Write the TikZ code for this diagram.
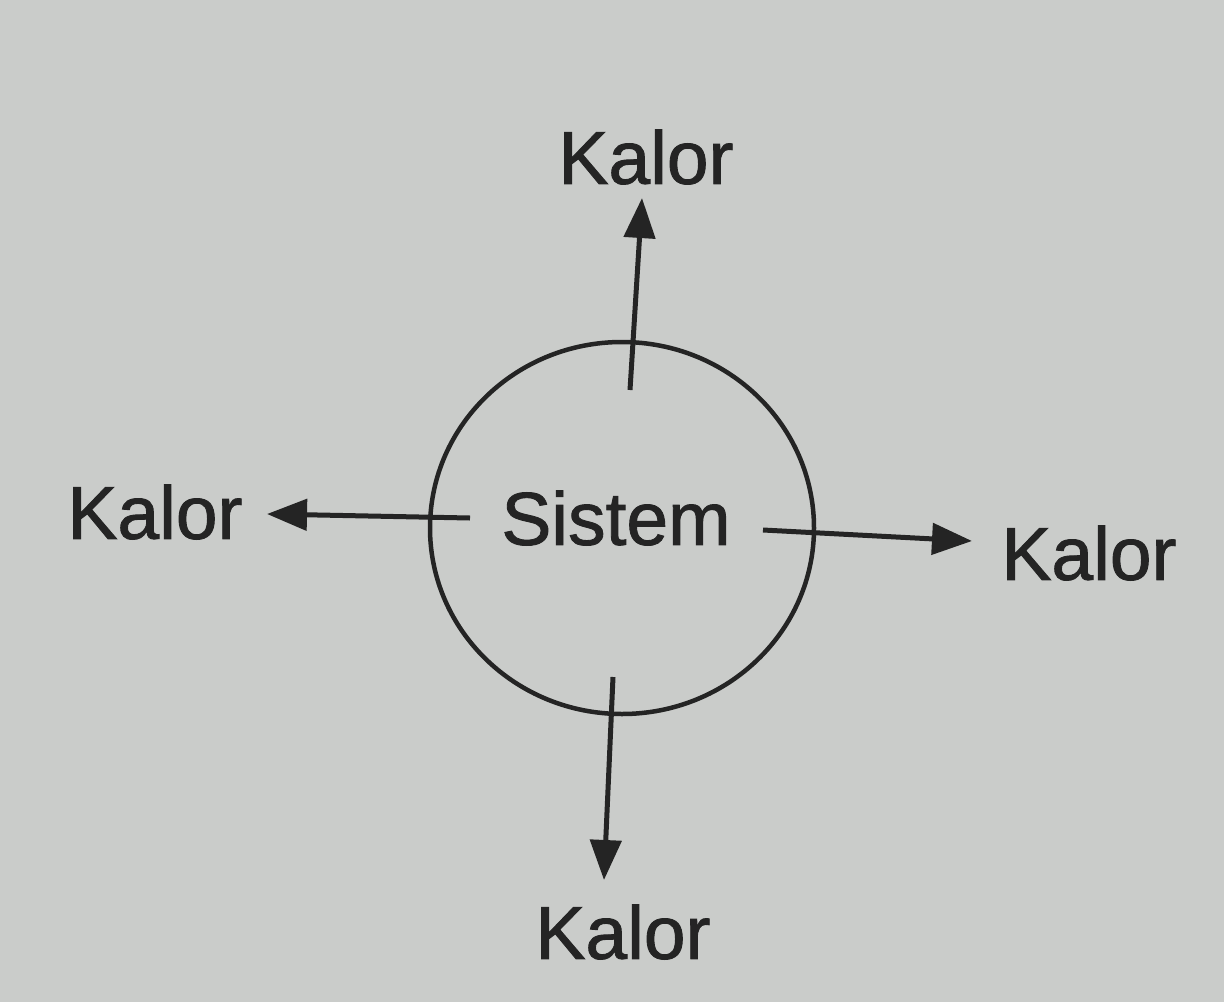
\documentclass[tikz,border=0pt]{standalone}
\usepackage{fontspec}
\setmainfont{Liberation Sans}
\newfontfamily\kfont{Liberation Sans}[FakeBold=1.2]
\usetikzlibrary{arrows.meta,shapes.geometric}
\definecolor{paper}{RGB}{202,204,202}
\definecolor{ink}{RGB}{36,36,36}
\tikzset{
  lbl/.style={text=ink, inner sep=0pt, font=\kfont\fontsize{75}{90}\selectfont},
  flow/.style={draw=ink, line width=5pt, -{Triangle[length=40pt,width=31pt]}},
  ring/.style={draw=ink, line width=4.5pt, ellipse, minimum width=384pt, minimum height=372pt, inner sep=0pt}
}
\begin{document}
\begin{tikzpicture}[x=1pt,y=-1pt]
\fill[paper] (0,0) rectangle (1224,1002);
\useasboundingbox (0,0) rectangle (1224,1002);
\node[ring] (sys) at (622,528) {};
\node[lbl] (sistem) at (616,518) {Sistem};
\node[lbl] (kt) at (646,157) {Kalor};
\node[lbl] (kl) at (155,512) {Kalor};
\node[lbl] (kr) at (1089,553) {Kalor};
\node[lbl] (kb) at (623,932) {Kalor};
\coordinate (t0) at (630,390); \coordinate (t1) at (642,198);
\coordinate (b0) at (613,677); \coordinate (b1) at (604,880);
\coordinate (l0) at (470,518); \coordinate (l1) at (267,514);
\coordinate (r0) at (763,530); \coordinate (r1) at (972,541);
\draw[flow] (t0) -- (t1);
\draw[flow] (b0) -- (b1);
\draw[flow] (l0) -- (l1);
\draw[flow] (r0) -- (r1);
\end{tikzpicture}
\end{document}
